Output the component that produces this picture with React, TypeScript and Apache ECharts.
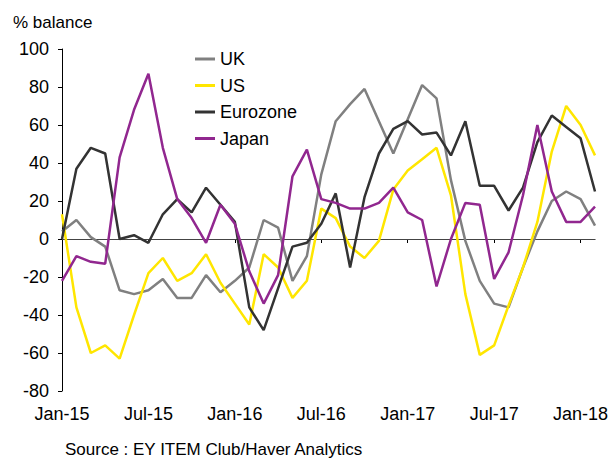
import React, { useEffect, useRef } from "react";
import * as echarts from "echarts";

const monthNames = ["Jan", "Feb", "Mar", "Apr", "May", "Jun", "Jul", "Aug", "Sep", "Oct", "Nov", "Dec"];
const years = ["15", "16", "17", "18"];
const categories: string[] = [];
years.forEach((y) => monthNames.forEach((m) => categories.push(`${m}-${y}`)));
const months = categories.slice(0, 38); // Jan-15 .. Feb-18

const ukValues = [4, 10, 1, -4, -27, -29, -27, -21, -31, -31, -19, -28, -22, -15, 10, 6, -22, -9, 34, 62, 71, 79, 62, 45, 63, 81, 74, 31, -1, -22, -34, -36, -15, 4, 20, 25, 21, 7];
const usValues = [13, -36, -60, -56, -63, -40, -18, -10, -22, -18, -8, -23, -34, -45, -8, -15, -31, -22, 16, 11, -4, -10, -1, 26, 36, 42, 48, 23, -29, -61, -56, -35, -15, 9, 46, 70, 60, 44];
const euroValues = [0, 37, 48, 45, 0, 2, -2, 13, 21, 14, 27, 18, 9, -36, -48, -26, -4, -2, 8, 24, -15, 22, 45, 58, 62, 55, 56, 44, 62, 28, 28, 15, 27, 51, 65, 59, 53, 25];
const japanValues = [-22, -9, -12, -13, 43, 68, 87, 48, 21, 11, -2, 18, 8, -17, -34, -19, 33, 47, 21, 19, 16, 16, 19, 27, 14, 10, -25, 0, 19, 18, -21, -7, 23, 60, 25, 9, 9, 17];

const seriesNames = ["UK", "US", "Eurozone", "Japan"];
const seriesColors = ["#808080", "#FFE600", "#333333", "#91278F"];
const seriesData = [ukValues, usValues, euroValues, japanValues];

const FONT = "Liberation Sans, Arial, sans-serif";

export default function App() {
  const ref = useRef<HTMLDivElement>(null);
  useEffect(() => {
    if (!ref.current) return;
    const chart = echarts.init(ref.current, undefined, { renderer: "svg" });
    chart.setOption({
      animation: false,
      backgroundColor: "#ffffff",
      textStyle: { fontFamily: FONT },
      grid: { left: 62, right: 17, top: 49, bottom: 67, containLabel: false },
      legend: {
        orient: "vertical",
        left: 190,
        top: 45,
        icon: "rect",
        itemWidth: 20,
        itemHeight: 3,
        itemGap: 8.5,
        textStyle: { fontSize: 18, color: "#000", fontFamily: FONT, lineHeight: 18 },
        data: seriesNames,
      },
      xAxis: {
        type: "category",
        data: months,
        boundaryGap: false,
        axisLine: { lineStyle: { color: "#000", width: 1 } },
        axisTick: { interval: 5, length: 4, lineStyle: { color: "#000" } },
        axisLabel: { interval: 5, fontSize: 18, color: "#000", margin: 14, fontFamily: FONT },
        splitLine: { show: false },
      },
      yAxis: {
        type: "value",
        min: -80,
        max: 100,
        interval: 20,
        axisLine: { show: true, lineStyle: { color: "#000", width: 1 } },
        axisTick: { show: true, length: 4, lineStyle: { color: "#000" } },
        axisLabel: { fontSize: 18, color: "#000", margin: 13, fontFamily: FONT },
        splitLine: { show: false },
      },
      graphic: [
        {
          type: "text",
          left: 13,
          top: 14,
          style: { text: "% balance", fontSize: 17, fill: "#000", fontFamily: FONT },
        },
        {
          type: "text",
          left: 65,
          top: 441,
          style: { text: "Source : EY ITEM Club/Haver Analytics", fontSize: 17, fill: "#000", fontFamily: FONT },
        },
      ],
      series: seriesNames.map((name, i) => ({
        name,
        type: "line",
        data: seriesData[i],
        symbol: "none",
        lineStyle: { color: seriesColors[i], width: 2.5 },
        itemStyle: { color: seriesColors[i] },
        z: 3,
        ...(i === 0
          ? {
              markLine: {
                silent: true,
                symbol: "none",
                label: { show: false },
                lineStyle: { color: "#444", width: 1, type: "solid" },
                data: [{ yAxis: 0 }],
                z: 2,
              },
            }
          : {}),
      })),
    });
    return () => chart.dispose();
  }, []);
  return <div ref={ref} style={{ width: 612, height: 458, position: "absolute", left: 0, top: 0 }} />;
}
